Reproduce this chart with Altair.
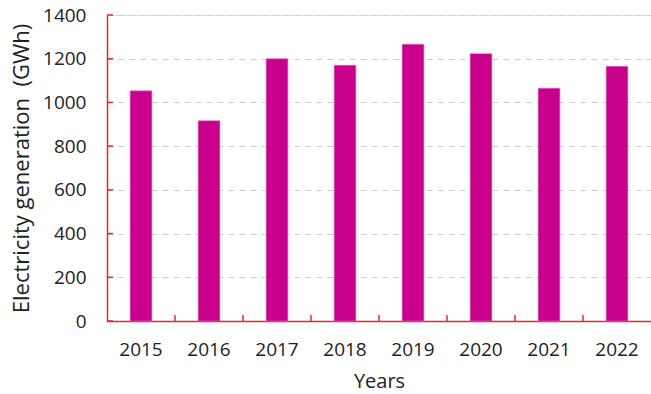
import altair as alt
import pandas as pd

# Annual electricity generation, GWh
years = ["2015", "2016", "2017", "2018", "2019", "2020", "2021", "2022"]
generation = [1053, 916, 1200, 1170, 1266, 1223, 1065, 1165]
y_ticks = [0, 200, 400, 600, 800, 1000, 1200, 1400]

df = pd.DataFrame({"year": years, "gwh": generation})
tick_df = pd.DataFrame({"gwh": y_ticks})

FONT = "Open Sans"
AXIS_RED = "#e8262a"
BAR = "#c8008c"
W, H = 544, 306
PAD_INNER = 0.68
PAD_OUTER = PAD_INNER / 2
TICK_LEN = 6

x_enc = alt.X(
    "year:N",
    sort=years,
    scale=alt.Scale(paddingInner=PAD_INNER, paddingOuter=PAD_OUTER),
    axis=alt.Axis(
        title="Years",
        labelAngle=0,
        domainColor=AXIS_RED,
        domainWidth=1.5,
        ticks=False,
        labelPadding=19,
        labelFont=FONT,
        labelFontSize=19,
        labelColor="#222222",
        titleFont=FONT,
        titleFontSize=20,
        titleFontWeight="normal",
        titleColor="#222222",
        titlePadding=12,
    ),
)

y_scale = alt.Scale(domain=[0, 1400], nice=False)

bars = alt.Chart(df).mark_bar(color=BAR, stroke="#e070c0", strokeWidth=0.6).encode(
    x=x_enc,
    y=alt.Y(
        "gwh:Q",
        scale=y_scale,
        axis=alt.Axis(
            title="Electricity generation\u00a0 (GWh)",
            values=y_ticks,
            format="d",
            domainColor=AXIS_RED,
            domainWidth=1.5,
            ticks=False,
            labelPadding=21,
            labelFont=FONT,
            labelFontSize=19,
            labelColor="#222222",
            titleFont=FONT,
            titleFontSize=22,
            titleFontWeight="normal",
            titleColor="#222222",
            titlePadding=9,
            grid=True,
            gridColor="#cfcfcf",
            gridDash=[6, 5],
            gridWidth=1,
        ),
    ),
)

# inward-pointing ticks on the value axis
y_tick_marks = alt.Chart(tick_df).mark_rule(color=AXIS_RED, strokeWidth=1.5).encode(
    y=alt.Y("gwh:Q", scale=y_scale),
    x=alt.value(0),
    x2=alt.value(TICK_LEN),
)

# small upward ticks on the category boundaries: half the inner gap left of each bar
step = W / (len(years) - PAD_INNER + 2 * PAD_OUTER)
x_tick_marks = (
    alt.Chart(df)
    .transform_filter(alt.datum.year != "2015")
    .mark_rule(color=AXIS_RED, strokeWidth=1.5, xOffset=-PAD_INNER * step / 2)
    .encode(
        x=alt.X("year:N", sort=years, bandPosition=0),
        y=alt.value(H - TICK_LEN),
        y2=alt.value(H),
    )
)

chart = (
    alt.layer(bars, y_tick_marks, x_tick_marks)
    .properties(
        width=W,
        height=H,
        autosize=alt.AutoSizeParams(type="none"),
        padding={"left": 107, "top": 15, "right": 0, "bottom": 73},
    )
    .configure_view(stroke=None)
    .configure(background="white")
)

chart.save("out.html", embed_options={"renderer": "svg", "actions": False})
